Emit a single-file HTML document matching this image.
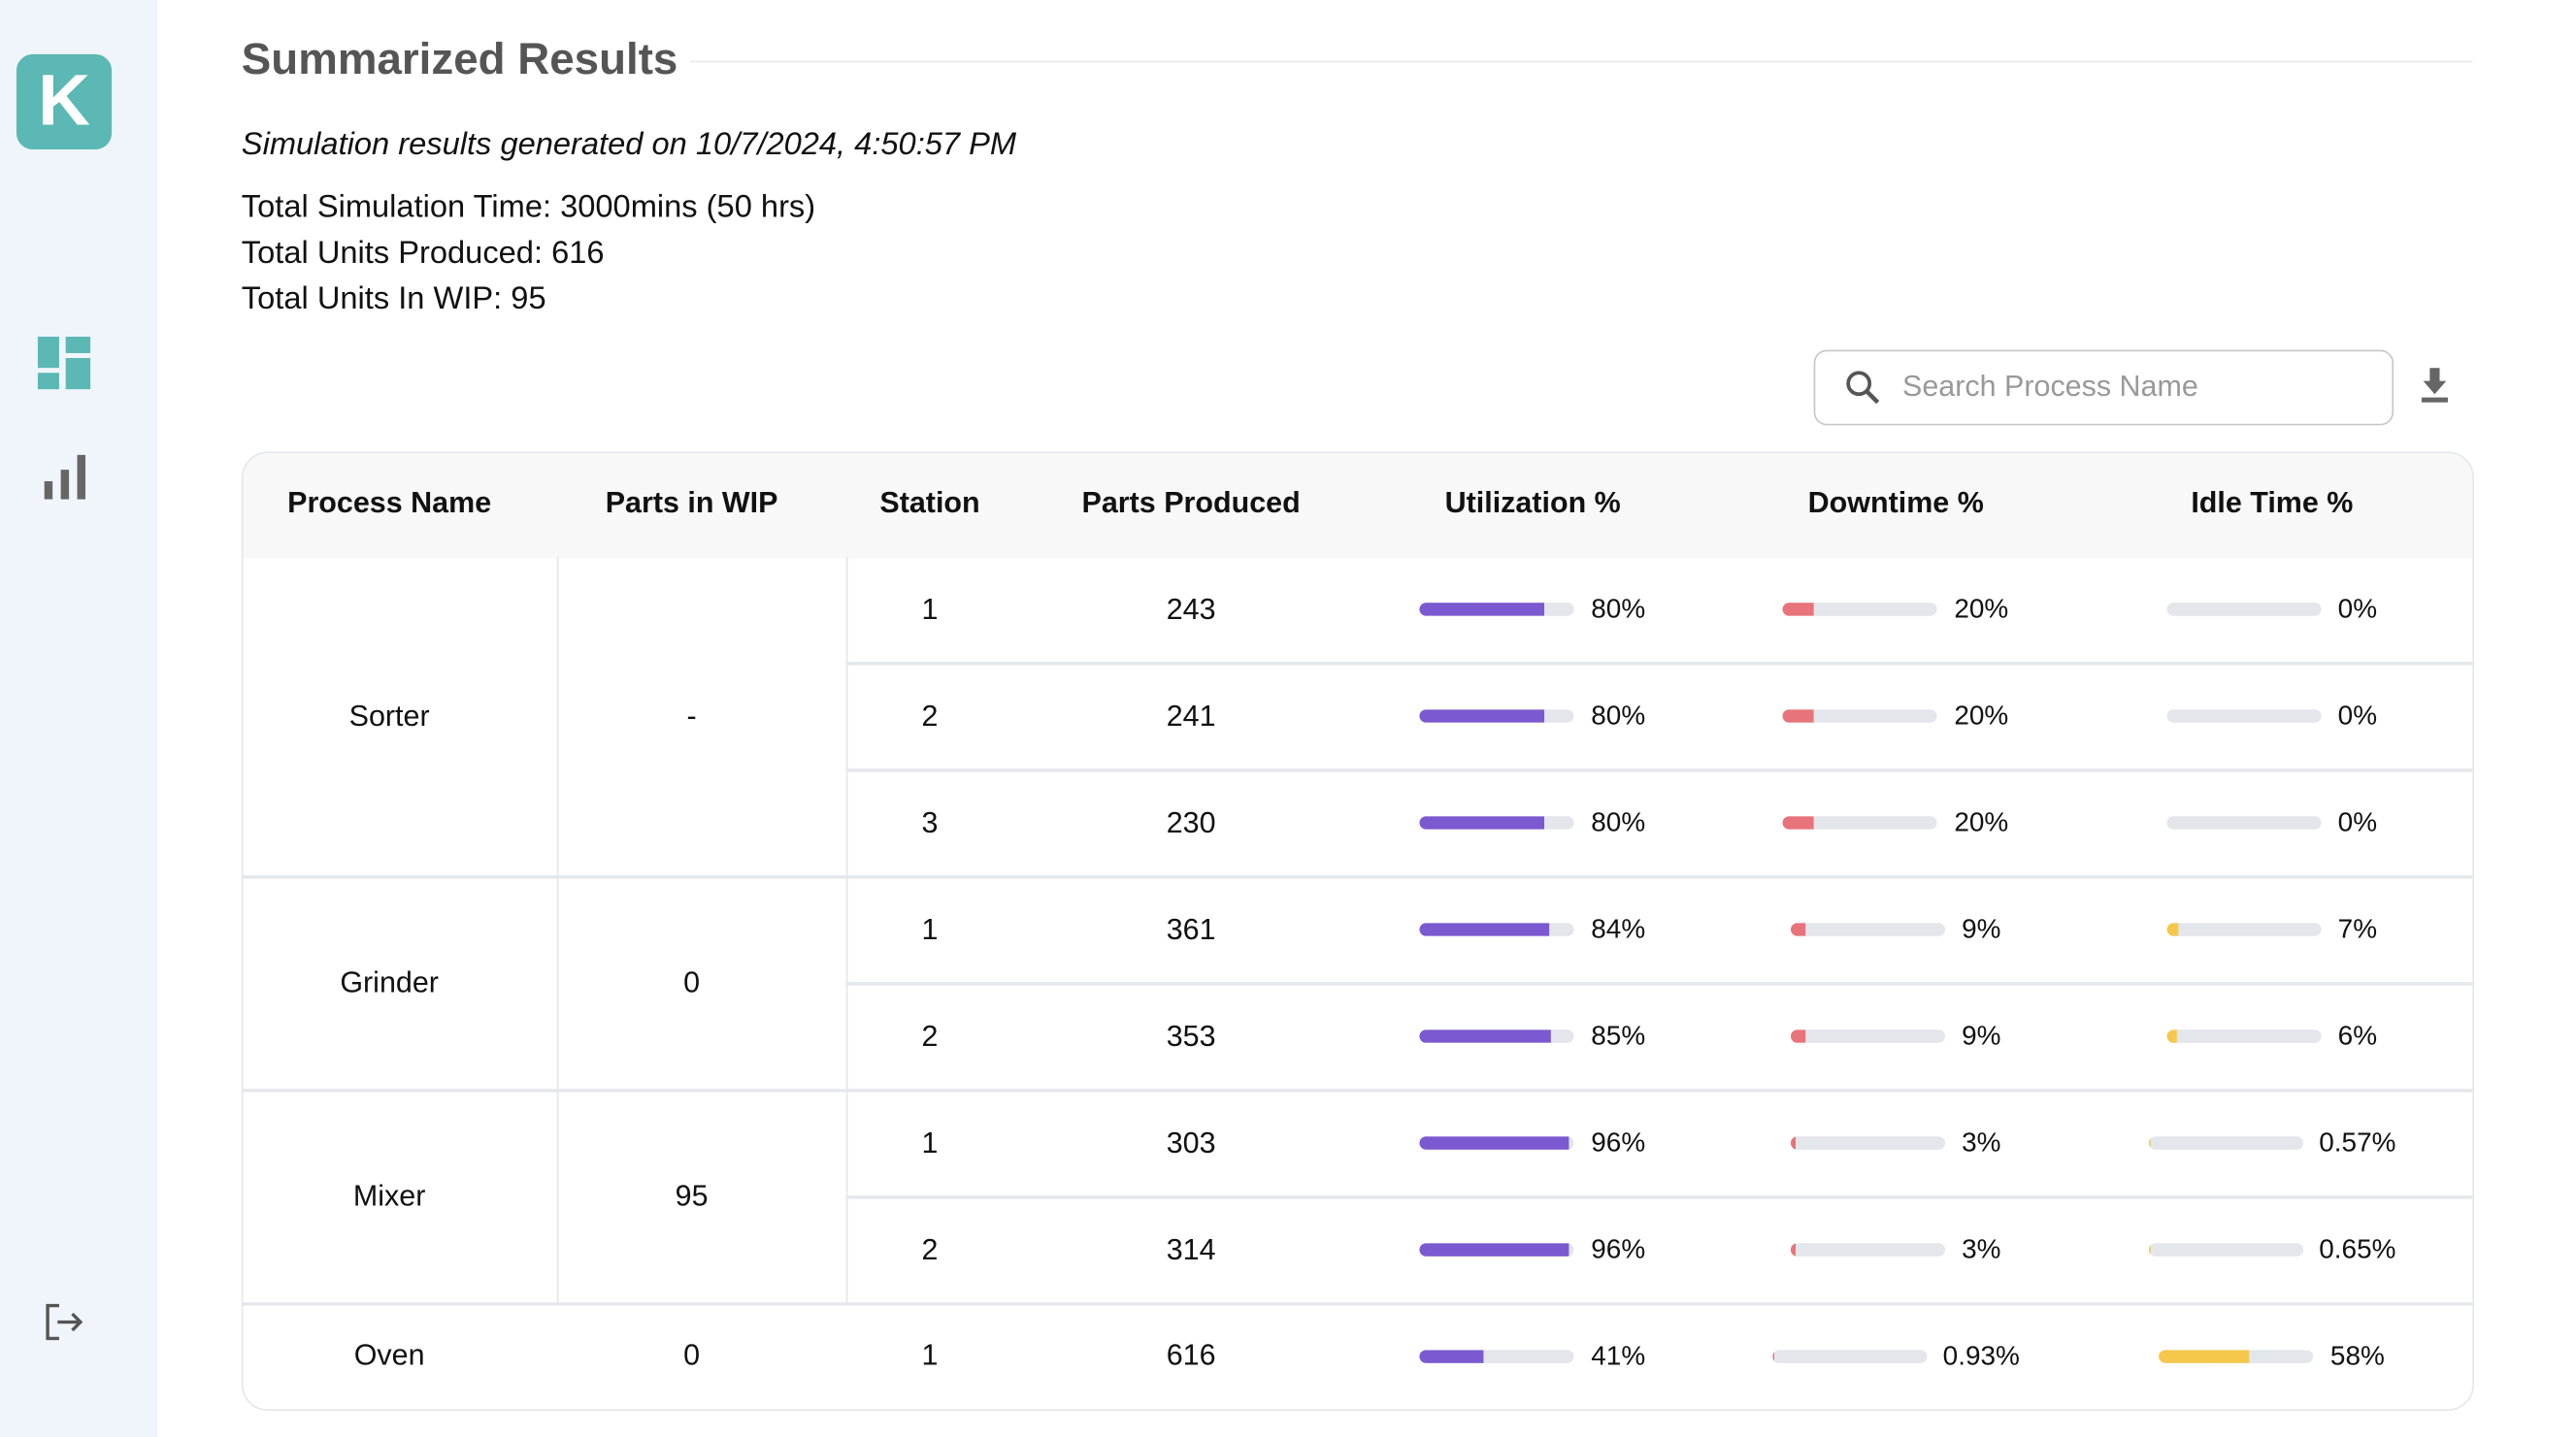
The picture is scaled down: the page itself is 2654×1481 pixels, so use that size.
<!DOCTYPE html>
<html><head><meta charset="utf-8"><style>
html,body{margin:0;padding:0;background:#fff;}
body{width:2654px;height:1480px;overflow:hidden;font-family:"Liberation Sans",sans-serif;}
#p{position:absolute;left:0;top:0;width:1568px;height:875px;transform:scale(1.6926);transform-origin:0 0;}
.a{position:absolute;}
.t{position:absolute;font-size:19.3px;color:#111;white-space:nowrap;}
.c{position:absolute;width:240px;height:20px;display:flex;align-items:center;justify-content:center;font-size:16.5px;color:#111;}
.bar{width:94px;height:8px;border-radius:4px;background:#e3e6eb;overflow:hidden;margin-right:10px;}
.bar i{display:block;height:100%;border-radius:4px 0 0 4px;}
.n{position:absolute;width:200px;text-align:center;font-size:18px;color:#111;}
.h{position:absolute;width:220px;text-align:center;font-size:18px;font-weight:bold;color:#111;top:296px;}
.hl{position:absolute;height:2px;background:#e4e7eb;}
.vl{position:absolute;width:1px;background:#e4e7eb;}
</style></head><body><div id="p">
<div class="a" style="left:0;top:0;width:96px;height:875px;background:#f0f5fc;"></div>
<div class="a" style="left:10px;top:33px;width:58px;height:58px;border-radius:10px;background:#5bb8b4;color:#fff;font-weight:bold;font-size:44px;line-height:58px;text-align:center;">K</div>
<div class="a" style="left:23px;top:205px;width:13px;height:19px;background:#5bb8b4"></div>
<div class="a" style="left:40px;top:205px;width:15px;height:10px;background:#5bb8b4"></div>
<div class="a" style="left:23px;top:227px;width:13px;height:10px;background:#5bb8b4"></div>
<div class="a" style="left:40px;top:218px;width:15px;height:19px;background:#5bb8b4"></div>
<div class="a" style="left:27px;top:293px;width:5px;height:11px;background:#666"></div>
<div class="a" style="left:37px;top:286px;width:5px;height:18px;background:#666"></div>
<div class="a" style="left:47px;top:277px;width:5px;height:27px;background:#666"></div>
<svg class="a" style="left:26px;top:793px" width="26" height="24" viewBox="0 0 26 24"><path d="M10 2H3v20h7M9 12h14M18 7l5 5-5 5" fill="none" stroke="#555" stroke-width="2"/></svg>

<div class="t" style="left:147px;top:21px;font-size:27px;font-weight:bold;color:#555;">Summarized Results</div>
<div class="a" style="left:420px;top:37px;width:1085px;height:1px;background:#e8e8e8"></div>
<div class="t" style="left:147px;top:78px;font-style:italic;">Simulation results generated on 10/7/2024, 4:50:57 PM</div>
<div class="t" style="left:147px;top:116px;">Total Simulation Time: 3000mins (50 hrs)</div>
<div class="t" style="left:147px;top:144px;">Total Units Produced: 616</div>
<div class="t" style="left:147px;top:172px;">Total Units In WIP: 95</div>

<div class="a" style="left:1104px;top:213px;width:351px;height:44px;border:1px solid #c8c8c8;border-radius:8px;"></div>
<svg class="a" style="left:1122px;top:224px" width="24" height="24" viewBox="0 0 24 24"><circle cx="9.5" cy="9.5" r="6.5" fill="none" stroke="#555" stroke-width="2.2"/><path d="M14 14l7 7" stroke="#555" stroke-width="2.6"/></svg>
<div class="t" style="left:1158px;top:225px;color:#999;font-size:18px;">Search Process Name</div>
<svg class="a" style="left:1472px;top:224px" width="20" height="22" viewBox="0 0 20 22"><path d="M7 0h6v8h4l-7 8-7-8h4z" fill="#666"/><rect x="2" y="18" width="16" height="3" fill="#666"/></svg>

<div class="a" style="left:147px;top:275px;width:1357px;height:582px;border:1px solid #e4e7eb;border-radius:16px;overflow:hidden;">
<div class="a" style="left:0;top:0;width:1357px;height:64px;background:#f8f8f8"></div>
</div>
<div class="h" style="left:127px">Process Name</div>
<div class="h" style="left:311px">Parts in WIP</div>
<div class="h" style="left:456px">Station</div>
<div class="h" style="left:615px">Parts Produced</div>
<div class="h" style="left:823px">Utilization %</div>
<div class="h" style="left:1044px">Downtime %</div>
<div class="h" style="left:1273px">Idle Time %</div>

<div class="vl" style="left:339px;top:339px;height:455px"></div>
<div class="vl" style="left:515px;top:339px;height:455px"></div>
<div class="hl" style="left:515px;top:403px;width:990px"></div>
<div class="hl" style="left:515px;top:468px;width:990px"></div>
<div class="hl" style="left:148px;top:533px;width:1357px"></div>
<div class="hl" style="left:515px;top:598px;width:990px"></div>
<div class="hl" style="left:148px;top:663px;width:1357px"></div>
<div class="hl" style="left:515px;top:728px;width:990px"></div>
<div class="hl" style="left:148px;top:793px;width:1357px"></div>

<div class="n" style="left:137px;top:426px">Sorter</div>
<div class="n" style="left:321px;top:426px">-</div>
<div class="n" style="left:137px;top:588px">Grinder</div>
<div class="n" style="left:321px;top:588px">0</div>
<div class="n" style="left:137px;top:718px">Mixer</div>
<div class="n" style="left:321px;top:718px">95</div>
<div class="n" style="left:137px;top:815px">Oven</div>
<div class="n" style="left:321px;top:815px">0</div>

<div class="n" style="left:466px;top:361px">1</div><div class="n" style="left:625px;top:361px">243</div>
<div class="n" style="left:466px;top:426px">2</div><div class="n" style="left:625px;top:426px">241</div>
<div class="n" style="left:466px;top:491px">3</div><div class="n" style="left:625px;top:491px">230</div>
<div class="n" style="left:466px;top:556px">1</div><div class="n" style="left:625px;top:556px">361</div>
<div class="n" style="left:466px;top:621px">2</div><div class="n" style="left:625px;top:621px">353</div>
<div class="n" style="left:466px;top:686px">1</div><div class="n" style="left:625px;top:686px">303</div>
<div class="n" style="left:466px;top:751px">2</div><div class="n" style="left:625px;top:751px">314</div>
<div class="n" style="left:466px;top:815px">1</div><div class="n" style="left:625px;top:815px">616</div>

<div class="c" style="left:813px;top:361px"><div class="bar"><i style="width:80%;background:#7b59d0"></i></div>80%</div>
<div class="c" style="left:813px;top:426px"><div class="bar"><i style="width:80%;background:#7b59d0"></i></div>80%</div>
<div class="c" style="left:813px;top:491px"><div class="bar"><i style="width:80%;background:#7b59d0"></i></div>80%</div>
<div class="c" style="left:813px;top:556px"><div class="bar"><i style="width:84%;background:#7b59d0"></i></div>84%</div>
<div class="c" style="left:813px;top:621px"><div class="bar"><i style="width:85%;background:#7b59d0"></i></div>85%</div>
<div class="c" style="left:813px;top:686px"><div class="bar"><i style="width:96%;background:#7b59d0"></i></div>96%</div>
<div class="c" style="left:813px;top:751px"><div class="bar"><i style="width:96%;background:#7b59d0"></i></div>96%</div>
<div class="c" style="left:813px;top:816px"><div class="bar"><i style="width:41%;background:#7b59d0"></i></div>41%</div>

<div class="c" style="left:1034px;top:361px"><div class="bar"><i style="width:20%;background:#e8737a"></i></div>20%</div>
<div class="c" style="left:1034px;top:426px"><div class="bar"><i style="width:20%;background:#e8737a"></i></div>20%</div>
<div class="c" style="left:1034px;top:491px"><div class="bar"><i style="width:20%;background:#e8737a"></i></div>20%</div>
<div class="c" style="left:1034px;top:556px"><div class="bar"><i style="width:9%;background:#e8737a"></i></div>9%</div>
<div class="c" style="left:1034px;top:621px"><div class="bar"><i style="width:9%;background:#e8737a"></i></div>9%</div>
<div class="c" style="left:1034px;top:686px"><div class="bar"><i style="width:3%;background:#e8737a"></i></div>3%</div>
<div class="c" style="left:1034px;top:751px"><div class="bar"><i style="width:3%;background:#e8737a"></i></div>3%</div>
<div class="c" style="left:1034px;top:816px"><div class="bar"><i style="width:1%;background:#e8737a"></i></div>0.93%</div>

<div class="c" style="left:1263px;top:361px"><div class="bar"></div>0%</div>
<div class="c" style="left:1263px;top:426px"><div class="bar"></div>0%</div>
<div class="c" style="left:1263px;top:491px"><div class="bar"></div>0%</div>
<div class="c" style="left:1263px;top:556px"><div class="bar"><i style="width:7%;background:#f5c84c"></i></div>7%</div>
<div class="c" style="left:1263px;top:621px"><div class="bar"><i style="width:6%;background:#f5c84c"></i></div>6%</div>
<div class="c" style="left:1263px;top:686px"><div class="bar"><i style="width:0.6%;background:#f5c84c"></i></div>0.57%</div>
<div class="c" style="left:1263px;top:751px"><div class="bar"><i style="width:0.7%;background:#f5c84c"></i></div>0.65%</div>
<div class="c" style="left:1263px;top:816px"><div class="bar"><i style="width:58%;background:#f5c84c"></i></div>58%</div>
</div></body></html>
